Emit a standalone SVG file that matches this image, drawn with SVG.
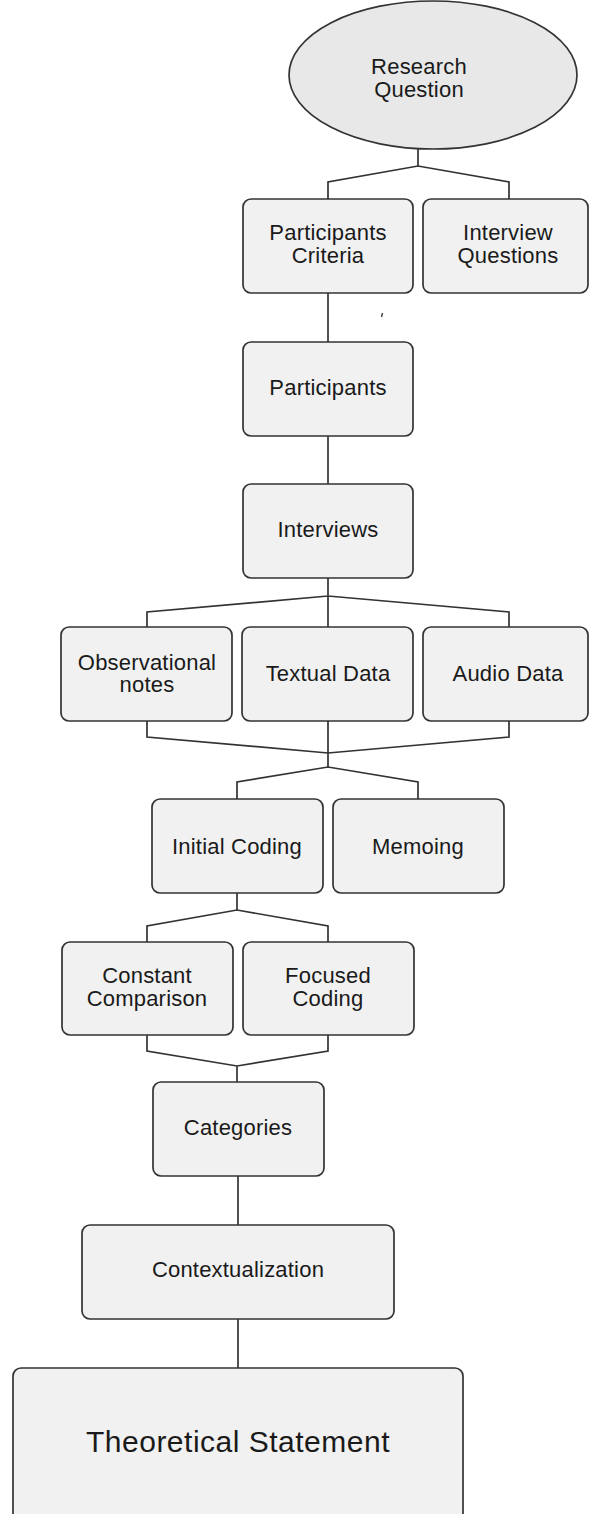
<svg xmlns="http://www.w3.org/2000/svg" width="589" height="1514" viewBox="0 0 589 1514">
  <style>
    .box { fill: #f1f1f1; stroke: #333333; stroke-width: 1.7; }
    .oval { fill: #e8e8e8; stroke: #333333; stroke-width: 1.7; }
    .wire { fill: none; stroke: #333333; stroke-width: 1.7; stroke-linejoin: miter; }
    .lbl { font-family: "Liberation Sans", Arial, sans-serif; font-size: 22px; fill: #1a1a1a; text-anchor: middle; letter-spacing: 0.2px; }
    .big { font-size: 30px; letter-spacing: 0.5px; }
  </style>
  <rect width="589" height="1514" fill="#ffffff"/>

  <!-- connectors -->
  <g id="connectors">
    <path class="wire" d="M418 149 V166 M328 199 V182 L418 166 L509 182 V199"/>
    <path class="wire" d="M328 293 V342"/>
    <path class="wire" d="M328 436 V484"/>
    <path class="wire" d="M328 578 V627 M147 627 V612 L328 596 L509 612 V627"/>
    <path class="wire" d="M147 721 V737 L328 753 L509 737 V721 M328 721 V767"/>
    <path class="wire" d="M237 799 V782 L328 767 L418 782 V799"/>
    <path class="wire" d="M237 893 V910 M147 942 V926 L237 910 L328 926 V942"/>
    <path class="wire" d="M147 1035 V1051 L237 1066 L328 1051 V1035 M237 1066 V1082"/>
    <path class="wire" d="M238 1176 V1225"/>
    <path class="wire" d="M238 1319 V1368"/>
  </g>

  <!-- small stray tick -->
  <path d="M382.5 313 L381.5 317" stroke="#444444" stroke-width="1.4" fill="none"/>

  <g id="research-question">
    <ellipse class="oval" cx="433" cy="75" rx="144" ry="74"/>
    <text class="lbl" x="419" y="74">Research</text>
    <text class="lbl" x="419" y="97">Question</text>
  </g>

  <g id="participants-criteria">
    <rect class="box" x="243" y="199" width="170" height="94" rx="8"/>
    <text class="lbl" x="328" y="240">Participants</text>
    <text class="lbl" x="328" y="263">Criteria</text>
  </g>

  <g id="interview-questions">
    <rect class="box" x="423" y="199" width="165" height="94" rx="8"/>
    <text class="lbl" x="508" y="240">Interview</text>
    <text class="lbl" x="508" y="263">Questions</text>
  </g>

  <g id="participants">
    <rect class="box" x="243" y="342" width="170" height="94" rx="8"/>
    <text class="lbl" x="328" y="395">Participants</text>
  </g>

  <g id="interviews">
    <rect class="box" x="243" y="484" width="170" height="94" rx="8"/>
    <text class="lbl" x="328" y="537">Interviews</text>
  </g>

  <g id="observational-notes">
    <rect class="box" x="61" y="627" width="171" height="94" rx="8"/>
    <text class="lbl" x="147" y="670">Observational</text>
    <text class="lbl" x="147" y="692">notes</text>
  </g>

  <g id="textual-data">
    <rect class="box" x="242" y="627" width="171" height="94" rx="8"/>
    <text class="lbl" x="328" y="681">Textual Data</text>
  </g>

  <g id="audio-data">
    <rect class="box" x="423" y="627" width="165" height="94" rx="8"/>
    <text class="lbl" x="508" y="681">Audio Data</text>
  </g>

  <g id="initial-coding">
    <rect class="box" x="152" y="799" width="171" height="94" rx="8"/>
    <text class="lbl" x="237" y="854">Initial Coding</text>
  </g>

  <g id="memoing">
    <rect class="box" x="333" y="799" width="171" height="94" rx="8"/>
    <text class="lbl" x="418" y="854">Memoing</text>
  </g>

  <g id="constant-comparison">
    <rect class="box" x="62" y="942" width="171" height="93" rx="8"/>
    <text class="lbl" x="147" y="983">Constant</text>
    <text class="lbl" x="147" y="1006">Comparison</text>
  </g>

  <g id="focused-coding">
    <rect class="box" x="243" y="942" width="171" height="93" rx="8"/>
    <text class="lbl" x="328" y="983">Focused</text>
    <text class="lbl" x="328" y="1006">Coding</text>
  </g>

  <g id="categories">
    <rect class="box" x="153" y="1082" width="171" height="94" rx="8"/>
    <text class="lbl" x="238" y="1135">Categories</text>
  </g>

  <g id="contextualization">
    <rect class="box" x="82" y="1225" width="312" height="94" rx="8"/>
    <text class="lbl" x="238" y="1277">Contextualization</text>
  </g>

  <g id="theoretical-statement">
    <rect class="box" x="13" y="1368" width="450" height="170" rx="8"/>
    <text class="lbl big" x="238" y="1452">Theoretical Statement</text>
  </g>
</svg>
